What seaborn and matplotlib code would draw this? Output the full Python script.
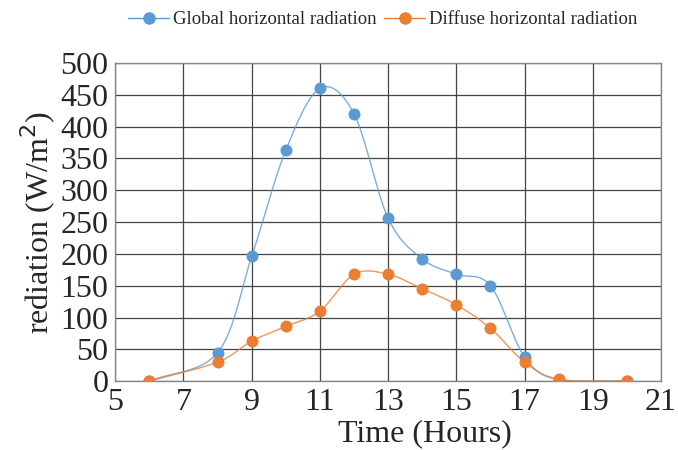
import numpy as np
import pandas as pd
import matplotlib
matplotlib.use("Agg")
import matplotlib.pyplot as plt
import seaborn as sns

# Hourly radiation values
hours = [6, 8, 9, 10, 11, 12, 13, 14, 15, 16, 17, 18, 20]
global_rad = [0, 45, 196, 363, 460, 420, 256, 192, 168, 150, 38, 2, 0]
diffuse_rad = [0, 30, 63, 86, 110, 168, 168, 145, 120, 83, 30, 3, 0]

series_names = ["Global horizontal radiation", "Diffuse horizontal radiation"]
colors = ["#5B9BD5", "#ED7D31"]


def smooth(x, y, n=30):
    # Catmull-Rom style curve through the points (like Excel "smoothed line")
    x = np.asarray(x, float)
    y = np.asarray(y, float)
    px = np.concatenate([[2 * x[0] - x[1]], x, [2 * x[-1] - x[-2]]])
    py = np.concatenate([[2 * y[0] - y[1]], y, [2 * y[-1] - y[-2]]])
    xs, ys = [], []
    t = np.linspace(0, 1, n)
    for i in range(1, len(px) - 2):
        for p, out in ((px, xs), (py, ys)):
            p0, p1, p2, p3 = p[i - 1], p[i], p[i + 1], p[i + 2]
            out.append(0.5 * ((2 * p1) + (-p0 + p2) * t
                              + (2 * p0 - 5 * p1 + 4 * p2 - p3) * t ** 2
                              + (-p0 + 3 * p1 - 3 * p2 + p3) * t ** 3))
    return np.concatenate(xs), np.concatenate(ys)


df = pd.DataFrame({
    "hour": hours * 2,
    "value": global_rad + diffuse_rad,
    "series": [series_names[0]] * len(hours) + [series_names[1]] * len(hours),
})

sns.set_style("white")
plt.rcParams["font.family"] = ["Liberation Serif", "DejaVu Serif"]

fig, ax = plt.subplots(figsize=(6.78, 4.5), dpi=100)
fig.subplots_adjust(left=0.17, right=0.975, top=0.86, bottom=0.153)

for name, col in zip(series_names, colors):
    sub = df[df["series"] == name]
    sx, sy = smooth(sub["hour"], sub["value"])
    sy = np.clip(sy, 0, None)
    sns.lineplot(x=sx, y=sy, ax=ax, color=col, linewidth=1.0, alpha=0.8)
    sns.scatterplot(x=sub["hour"], y=sub["value"], ax=ax, color=col, s=75,
                    edgecolor=col, linewidth=0, zorder=3)
    # legend proxy
    ax.plot([], [], color=col, marker="o", markersize=8, linewidth=1.0, label=name)

ax.set_xlim(5, 21)
ax.set_ylim(0, 500)
ax.set_xticks(range(5, 22, 2))
ax.set_yticks(range(0, 501, 50))
ax.grid(True, color="#444444", linewidth=0.9)
ax.set_axisbelow(True)
for s in ax.spines.values():
    s.set_color("#888888")
    s.set_linewidth(1.0)
ax.tick_params(axis="both", labelsize=23, length=4, color="#555555", pad=1)
ax.set_xlabel("Time (Hours)", fontsize=23)
ax.xaxis.set_label_coords(0.567, -0.12)
ax.set_ylabel("rediation (W/m$^2$)", fontsize=23, labelpad=2)

ax.legend(loc="lower center", bbox_to_anchor=(0.49, 1.085), ncol=2, frameon=False,
          fontsize=13.5, handlelength=2.2, columnspacing=0.4, handletextpad=0.2,
          borderaxespad=0)

fig.savefig("out.png", dpi=100)
